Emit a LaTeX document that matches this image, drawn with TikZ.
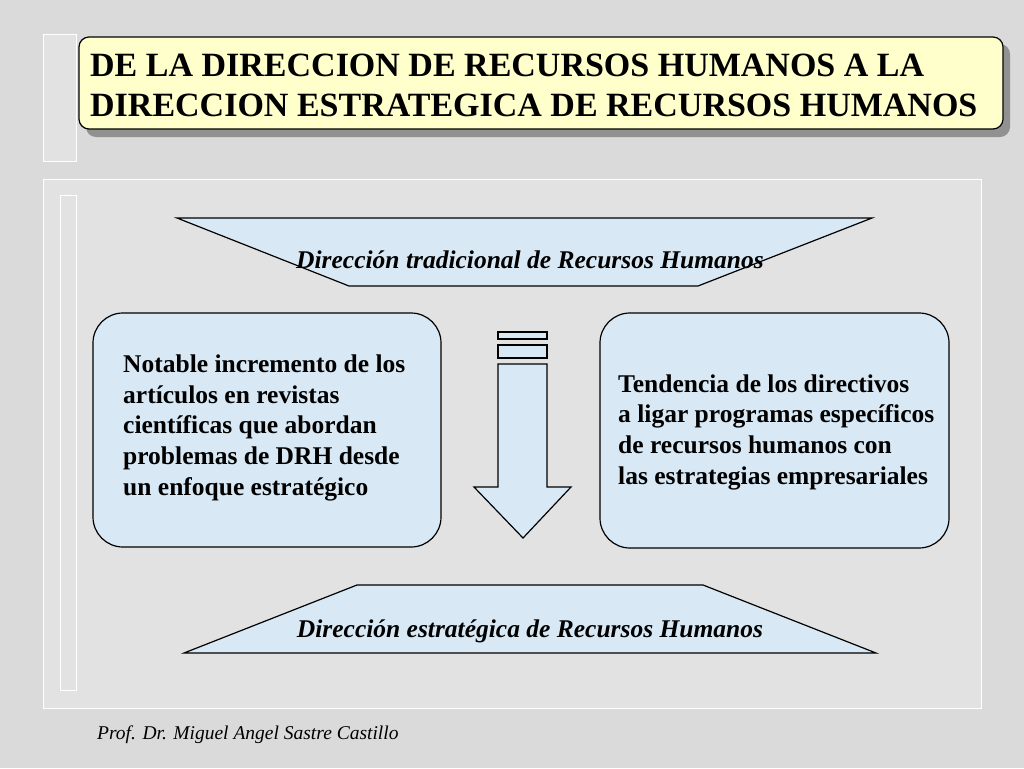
\documentclass[tikz,border=0pt]{standalone}
\usepackage{fontspec}
\setmainfont{Liberation Serif}[
  BoldFont={Liberation Serif Bold},
  ItalicFont={Liberation Serif Italic},
  BoldItalicFont={Liberation Serif Bold Italic}]
\usetikzlibrary{calc}
\definecolor{marble}{RGB}{218,218,218}
\definecolor{panelgray}{RGB}{226,226,226}
\definecolor{titleyellow}{RGB}{255,255,204}
\definecolor{paleblue}{RGB}{216,233,245}
\definecolor{shadowgray}{RGB}{145,145,145}
\tikzset{
  outline/.style={draw=black, line width=1.2pt},
  bluebox/.style={outline, fill=paleblue, rounded corners=30pt},
  boxtext/.style={anchor=base west, align=left, inner sep=0pt, font=\fontsize{25.5}{30.6}\selectfont\bfseries},
  bandtext/.style={anchor=base, inner sep=0pt, font=\fontsize{25.5}{28}\selectfont\bfseries\itshape},
}

\begin{document}
\begin{tikzpicture}[x=1pt, y=-1pt]
		%%%%% START %%%%%
		\useasboundingbox (0,0) rectangle (1024,768);
		\fill[marble] (0,0) rectangle (1024,768);
		
		% frames
		\draw[white, fill=panelgray] (43,34) rectangle (76,161);
		\draw[white, fill=panelgray] (43,179) rectangle (981,708);
		\draw[white] (60,195) rectangle (76,690);
		
		% title
		\fill[shadowgray, rounded corners=10pt] (86,44) rectangle (1010,137);
		\draw[outline, fill=titleyellow, rounded corners=10pt] (79,37) rectangle (1003,129);
		\node[anchor=base west, align=left, inner sep=0pt, font=\fontsize{34}{40}\selectfont\bfseries] (title) at (90,116)
			{DE LA DIRECCION DE RECURSOS HUMANOS A LA\\DIRECCION ESTRATEGICA DE RECURSOS HUMANOS};
		
		% top band
		\draw[outline, fill=paleblue] (177,218) -- (872,218) -- (698,286) -- (349,286) -- cycle;
		\node[bandtext] (tradicional) at (530,268) {Dirección tradicional de Recursos Humanos};
		
		% boxes
		\draw[bluebox] (93,313) rectangle (441,547);
		\node[boxtext] (articulos) at (123,495)
			{Notable incremento de los\\artículos en revistas\\científicas que abordan\\problemas de DRH desde\\un enfoque estratégico};
		\draw[bluebox] (600,313) rectangle (949,548);
		\node[boxtext] (tendencia) at (618,484)
			{Tendencia de los directivos\\a ligar programas específicos\\de recursos humanos con\\las estrategias empresariales};
		
		% arrow
		\draw[outline, fill=paleblue] (498,332) rectangle (547,339);
		\draw[outline, fill=paleblue] (498,345) rectangle (547,358);
		\draw[outline, fill=paleblue] (498,364) -- (547,364) -- (547,487) -- (571,487)
			-- (523,538) -- (474,487) -- (498,487) -- cycle;
		
		% bottom band
		\draw[outline, fill=paleblue] (357,585) -- (703,585) -- (876,653) -- (184,653) -- cycle;
		\node[bandtext] (estrategica) at (530,637) {Dirección estratégica de Recursos Humanos};
		
		% footer
		\node[anchor=base west, inner sep=0pt, font=\fontsize{19.5}{22}\selectfont\itshape] (autor) at (97,739)
			{Prof. Dr. Miguel Angel Sastre Castillo};
		%%%%% END %%%%%
\end{tikzpicture}
\end{document}
